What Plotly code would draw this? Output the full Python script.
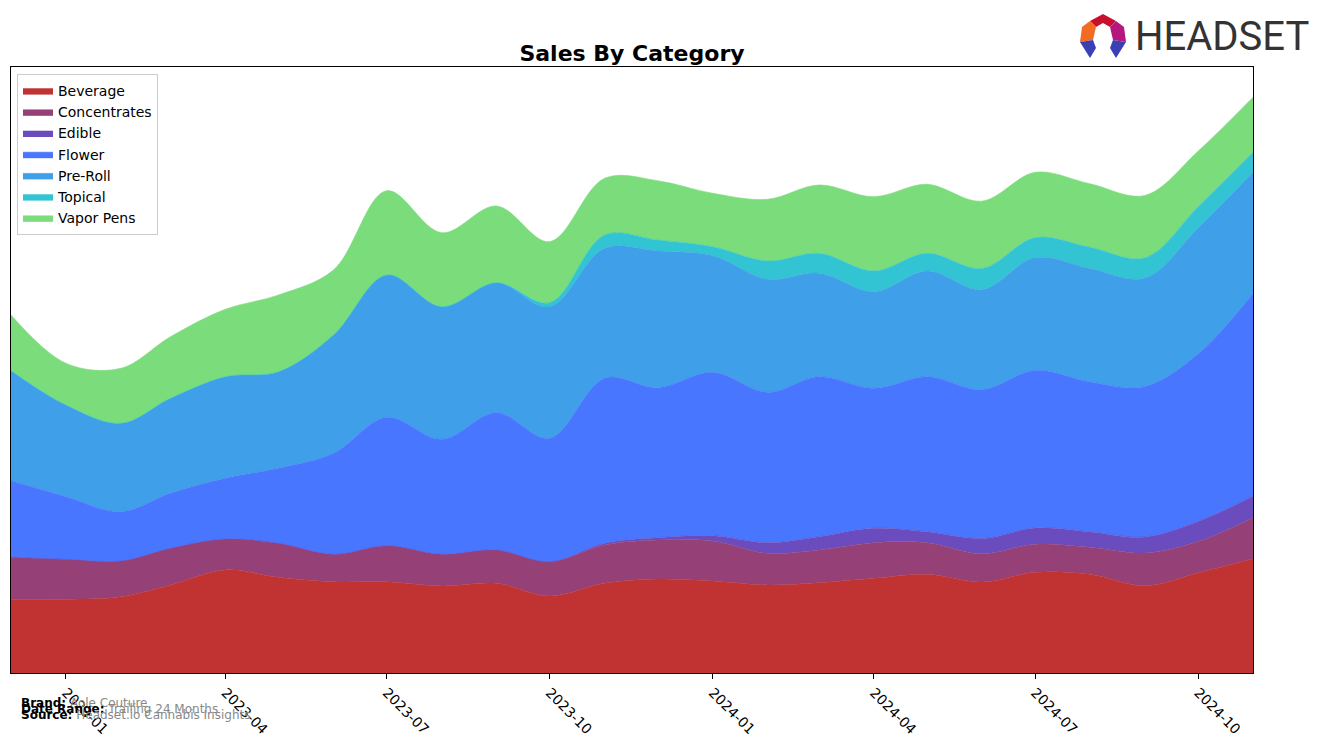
import plotly.graph_objects as go

W, H = 1317, 743
L, R, T, B = 11, 1253, 67, 673

months = ["2022-12-01", "2023-01-01", "2023-02-01", "2023-03-01", "2023-04-01", "2023-05-01",
          "2023-06-01", "2023-07-01", "2023-08-01", "2023-09-01", "2023-10-01", "2023-11-01",
          "2023-12-01", "2024-01-01", "2024-02-01", "2024-03-01", "2024-04-01", "2024-05-01",
          "2024-06-01", "2024-07-01", "2024-08-01", "2024-09-01", "2024-10-01", "2024-11-01"]

beverage = [73.7, 73.7, 76.3, 88.0, 103.0, 95.7, 91.3, 91.3, 87.0, 89.7, 77.0, 89.7,
            94.0, 92.0, 88.0, 90.3, 94.7, 98.7, 91.0, 100.7, 98.8, 87.2, 100.0, 114.2]
concentrates = [42.0, 40.0, 35.7, 36.7, 31.0, 34.0, 27.4, 36.0, 31.7, 33.3, 34.3, 38.3,
                39.0, 40.0, 31.7, 32.7, 35.6, 31.6, 28.2, 28.1, 26.9, 32.8, 31.5, 41.1]
edible = [0, 0, 0, 0, 0, 0, 0, 0, 0, 0, 0, 1.7,
          2.3, 5.3, 10.6, 13.3, 14.4, 11.0, 15.3, 16.2, 15.4, 16.1, 20.0, 21.5]
flower = [76.6, 62.6, 49.3, 55.0, 60.7, 75.0, 101.0, 128.4, 115.0, 137.3, 123.4, 165.0,
          150.0, 163.4, 150.4, 160.0, 140.0, 155.0, 148.9, 157.6, 150.0, 150.4, 167.7, 202.7]
preroll = [110.0, 91.7, 88.4, 95.0, 101.6, 96.6, 118.3, 142.3, 132.6, 130.0, 131.6, 130.0,
           136.7, 116.6, 113.0, 103.4, 96.6, 105.7, 100.0, 112.7, 113.4, 108.5, 125.8, 121.2]
topical = [0, 0, 0, 0, 0, 0, 0, 0, 0, 0, 4.0, 13.3,
           11.0, 9.0, 18.3, 20.0, 20.7, 17.7, 21.1, 20.0, 21.2, 20.3, 21.1, 20.0]
vapor = [55.7, 41.7, 55.0, 61.6, 67.4, 76.7, 65.0, 84.3, 74.0, 76.7, 61.0, 56.7,
         59.3, 53.4, 61.7, 68.3, 74.3, 69.0, 67.3, 65.4, 63.5, 62.3, 55.7, 55.0]

categories = ["Beverage", "Concentrates", "Edible", "Flower", "Pre-Roll", "Topical", "Vapor Pens"]
series = [beverage, concentrates, edible, flower, preroll, topical, vapor]
colors = ["#C13333", "#954177", "#6A4CBE", "#4876FF", "#3F9FE8", "#33C4D3", "#7BDC7B"]

tick_vals = ["2023-01-01", "2023-04-01", "2023-07-01", "2023-10-01",
             "2024-01-01", "2024-04-01", "2024-07-01", "2024-10-01"]
tick_text = ["2023-01", "2023-04", "2023-07", "2023-10", "2024-01", "2024-04", "2024-07", "2024-10"]

fig = go.Figure()
for name, vals, col in zip(categories, series, colors):
    fig.add_trace(go.Scatter(
        x=months, y=vals, name=name, mode="lines", stackgroup="one",
        line=dict(shape="spline", smoothing=1.0, width=0.6, color=col),
        fillcolor=col,
    ))

fig.update_layout(
    width=W, height=H,
    margin=dict(l=L, r=W - R, t=T, b=H - B),
    paper_bgcolor="white", plot_bgcolor="white",
    font=dict(family="DejaVu Sans", color="black"),
    title=dict(text="<b>Sales By Category</b>", x=(L + R) / 2 / W, xanchor="center",
               y=1 - 53 / H, yanchor="middle", font=dict(size=22, family="DejaVu Sans")),
    showlegend=True,
    legend=dict(x=(17 - L) / (R - L), y=(B - 74) / (B - T), xanchor="left", yanchor="top",
                bgcolor="white", bordercolor="#CCCCCC", borderwidth=1,
                font=dict(size=14, family="DejaVu Sans"), traceorder="normal",
                itemwidth=30, tracegroupgap=0),
    xaxis=dict(range=[months[0], months[-1]], tickvals=tick_vals, ticktext=tick_text,
               tickangle=45, ticks="outside", ticklen=5, tickcolor="black", automargin=False,
               showgrid=False, zeroline=False, showline=True, linecolor="black",
               linewidth=1, mirror=True, tickfont=dict(size=14, family="DejaVu Sans")),
    yaxis=dict(range=[0, B - T], showticklabels=False, ticks="", showgrid=False, automargin=False,
               zeroline=False, showline=True, linecolor="black", linewidth=1, mirror=True),
)

# footer text
footer = [
    (703, "<b>Brand:</b> <span style='color:#888888'>Aole Couture</span>"),
    (709, "<b>Date Range:</b> <span style='color:#888888'>Trailing 24 Months</span>"),
    (715, "<b>Source:</b> <span style='color:#888888'>Headset.io Cannabis Insights</span>"),
]
for py, txt in footer:
    fig.add_annotation(text=txt, xref="paper", yref="paper", showarrow=False,
                       x=(19 - L) / (R - L), y=(B - py) / (B - T), xanchor="left", yanchor="middle",
                       font=dict(size=12, family="DejaVu Sans", color="black"))

# HEADSET logo text
fig.add_annotation(text="HEADSET", xref="paper", yref="paper", showarrow=False,
                   x=(1133 - L) / (R - L), y=(B - 37) / (B - T), xanchor="left", yanchor="middle",
                   font=dict(size=40, family="Roboto", color="#333333"))

# logo mark (approximate) drawn as shapes in paper coordinates
def px(xp, yp):
    return (xp - L) / (R - L), (B - yp) / (B - T)

def path(points):
    s = ""
    for i, (a, b) in enumerate(points):
        xx, yy = px(a, b)
        s += ("M" if i == 0 else "L") + f"{xx:.5f},{yy:.5f} "
    return s + "Z"

logo_parts = [
    ([(1090, 21), (1103, 14), (1116, 21), (1110, 27), (1103, 23), (1096, 27)], "#C8102E"),
    ([(1090, 21), (1096, 27), (1093, 40), (1080, 42), (1082, 27)], "#F26B21"),
    ([(1116, 21), (1124, 27), (1126, 42), (1113, 40), (1110, 27)], "#B5177D"),
    ([(1080, 42), (1093, 40), (1096, 48), (1090, 58)], "#3B3FB6"),
    ([(1126, 42), (1113, 40), (1110, 48), (1116, 58)], "#3B3FB6"),
]
for pts, col in logo_parts:
    fig.add_shape(type="path", path=path(pts), xref="paper", yref="paper",
                  fillcolor=col, line=dict(width=0))

fig.write_html("out.html")
